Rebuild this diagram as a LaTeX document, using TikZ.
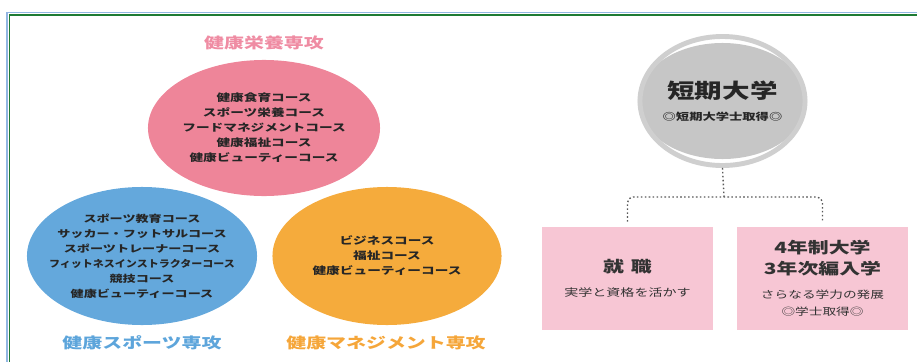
\documentclass[tikz,border=0pt]{standalone}
\usepackage{fontspec}
\usepackage{graphicx}
\setmainfont[FakeStretch=1.35]{Noto Sans CJK JP}
\usetikzlibrary{shapes.geometric,positioning}

\definecolor{eiyoupink}{HTML}{EE8599}
\definecolor{eiyoutitle}{HTML}{EF8CA3}
\definecolor{sportsblue}{HTML}{64A8DC}
\definecolor{sportstitle}{HTML}{5DA5DB}
\definecolor{manageorange}{HTML}{F5AB3C}
\definecolor{managetitle}{HTML}{F5A63A}
\definecolor{boxpink}{HTML}{F7C6D4}
\definecolor{tandaigray}{HTML}{C6C6C6}
\definecolor{ringgray}{HTML}{CFCFCF}
\definecolor{framegreen}{HTML}{1E7B34}
\definecolor{frameblue}{HTML}{92B6E2}

% one course line, kept out of the ellipse size
\newcommand{\kosu}[1]{\makebox[0pt]{#1}}

\begin{document}
\begin{tikzpicture}[x=0.025cm,y=-0.025cm,
  senkou/.style={ellipse,inner sep=0pt,align=center,text=black!85,
    font=\fontsize{7.2}{10.7}\selectfont\bfseries},
  senkoutitle/.style={font=\fontsize{10.5}{12}\selectfont\bfseries},
  shinro/.style={rectangle,fill=boxpink,minimum width=4.275cm,minimum height=2.575cm,
    inner sep=0pt,align=center,text=black!80},
  dotline/.style={draw=black!65,line width=1pt,dash pattern=on 1.1pt off 1.7pt}]

    \useasboundingbox (0,0) rectangle (917,362);

    % frame
    \draw[frameblue,line width=1.4pt] (7,362) -- (7,12.5) -- (917,12.5);
    \draw[framegreen,line width=1.4pt] (9.5,362) -- (9.5,14.8) -- (917,14.8);

    % three majors
    \node[senkoutitle,text=eiyoutitle] (eiyoutitle) at (264,43) {健康栄養専攻};
    \node[senkou,fill=eiyoupink,minimum width=5.8cm,minimum height=3.4cm] (eiyou) at (264,128)
      {\kosu{健康食育コース}\\\kosu{スポーツ栄養コース}\\\kosu{フードマネジメントコース}\\\kosu{健康福祉コース}\\\kosu{健康ビューティーコース}};

    \node[senkou,fill=sportsblue,minimum width=5.75cm,minimum height=3.45cm,
      font=\fontsize{6.9}{10.7}\selectfont\bfseries] (sports) at (142,256)
      {\kosu{スポーツ教育コース}\\\kosu{サッカー・フットサルコース}\\\kosu{スポーツトレーナーコース}\\\kosu{\scalebox{0.84}[1]{フィットネスインストラクターコース}}\\\kosu{競技コース}\\\kosu{健康ビューティーコース}};
    \node[senkoutitle,text=sportstitle] (sportstitle) at (142,343) {健康スポーツ専攻};

    \node[senkou,fill=manageorange,minimum width=5.725cm,minimum height=3.45cm] (manage) at (387,256)
      {\kosu{ビジネスコース}\\\kosu{福祉コース}\\\kosu{健康ビューティーコース}};
    \node[senkoutitle,text=managetitle] (managetitle) at (386,343) {健康マネジメント専攻};

    % junior college
    \node[ellipse,fill=tandaigray,minimum width=3.8cm,minimum height=2.9cm,inner sep=0pt,
      align=center,text=black!85,font=\fontsize{7}{15.6}\selectfont\bfseries] (tandai) at (722.5,101)
      {{\fontsize{14.5}{15.6}\selectfont 短期大学}\\◎短期大学士取得◎};
    \node[ellipse,draw=ringgray,line width=3.5pt,minimum width=4.125cm,minimum height=3.225cm] (ring) at (tandai) {};

    % after graduation
    \node[shinro,font=\fontsize{7.4}{17}\selectfont] (shushoku) at (627.5,278.5)
      {{\fontsize{11}{17}\selectfont\bfseries 就\hspace{0.45em}職}\\実学と資格を活かす};
    \node[shinro,font=\fontsize{7.2}{12}\selectfont] (hennyu) at (822.5,278.5)
      {{\fontsize{11}{12}\selectfont\bfseries 4年制大学}\\[3pt]{\fontsize{11}{12}\selectfont\bfseries 3年次編入学}\\[5pt]さらなる学力の発展\\◎学士取得◎};

    \coordinate (fork) at (724,197);
    \draw[dotline] (ring.south) -- (fork);
    \draw[dotline,rounded corners=4pt] ([yshift=0.125cm]shushoku.north) |- (fork) -| ([yshift=0.125cm]hennyu.north);

\end{tikzpicture}
\end{document}
